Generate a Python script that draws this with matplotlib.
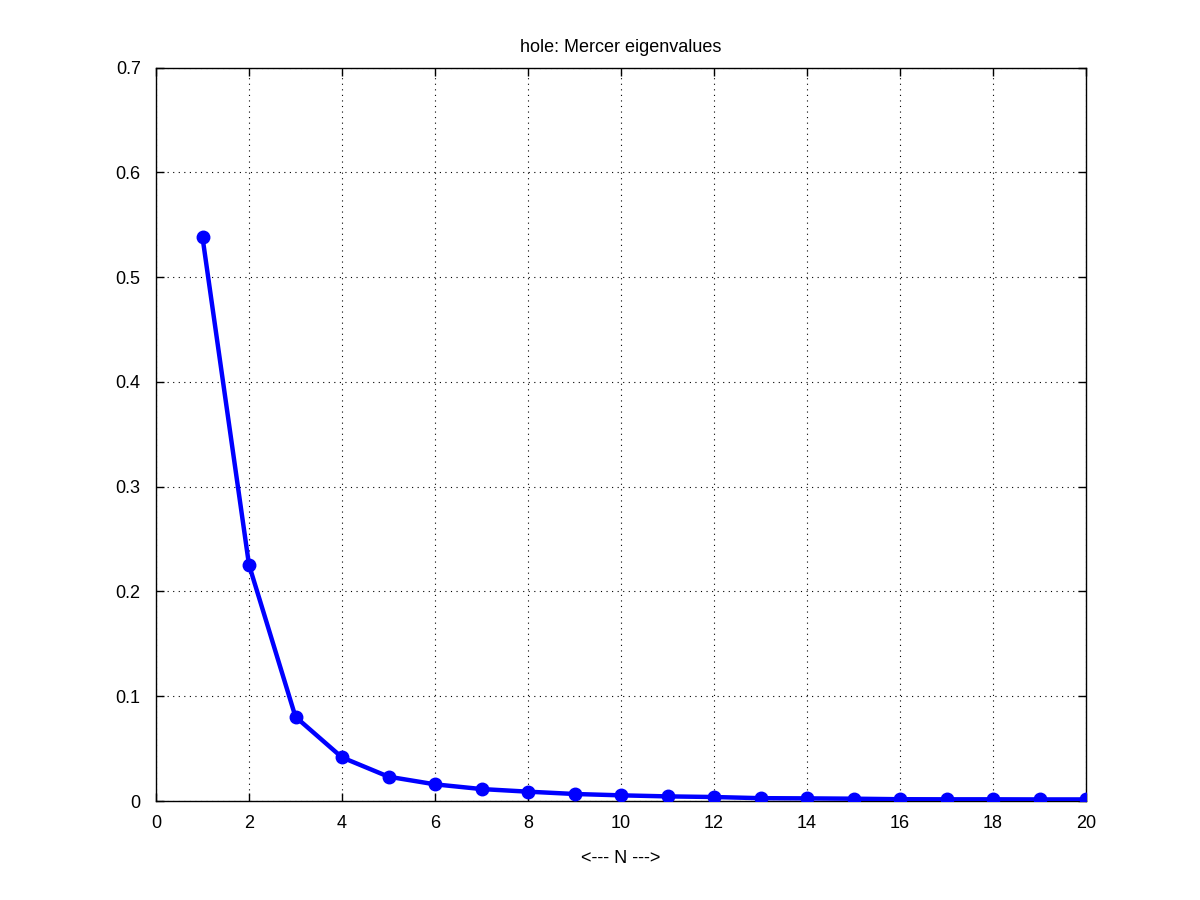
import matplotlib
matplotlib.use("Agg")
import matplotlib.pyplot as plt

# Mercer eigenvalues
n_values = list(range(1, 21))
eigenvalues = [0.538, 0.2254, 0.0803, 0.0416, 0.0232, 0.0159, 0.0114, 0.0089,
               0.0067, 0.0054, 0.0044, 0.0038, 0.0027, 0.0025, 0.0022, 0.0017,
               0.0016, 0.0016, 0.0015, 0.0015]

x_ticks = list(range(0, 21, 2))
y_ticks = [0, 0.1, 0.2, 0.3, 0.4, 0.5, 0.6, 0.7]

plt.rcParams['font.family'] = ['Liberation Sans', 'DejaVu Sans']

fig = plt.figure(figsize=(12, 9), dpi=100)
ax = fig.add_axes([0.13, 0.11, 0.775, 0.815])

ax.plot(n_values, eigenvalues, color='#0000ff', linewidth=3.2,
        marker='o', markersize=9, zorder=3)

ax.set_xlim(0, 20)
ax.set_ylim(0, 0.7)
ax.set_xticks(x_ticks)
ax.set_yticks(y_ticks)
ax.set_xticklabels([str(v) for v in x_ticks])
ax.set_yticklabels(['0', '0.1', '0.2', '0.3', '0.4', '0.5', '0.6', '0.7'])

ax.grid(True, color='black', linestyle=(0, (1, 4)), linewidth=0.8)
ax.tick_params(direction='in', length=6, labelsize=13, top=True, right=True,
               width=1)
ax.tick_params(axis='x', pad=10)
ax.tick_params(axis='y', pad=11)
for sp in ax.spines.values():
    sp.set_linewidth(1)

ax.set_xlabel('<--- N --->', fontsize=13, labelpad=13)
ax.set_title('hole: Mercer eigenvalues', fontsize=13, pad=11)

fig.savefig('out.png', dpi=100, facecolor='white')
